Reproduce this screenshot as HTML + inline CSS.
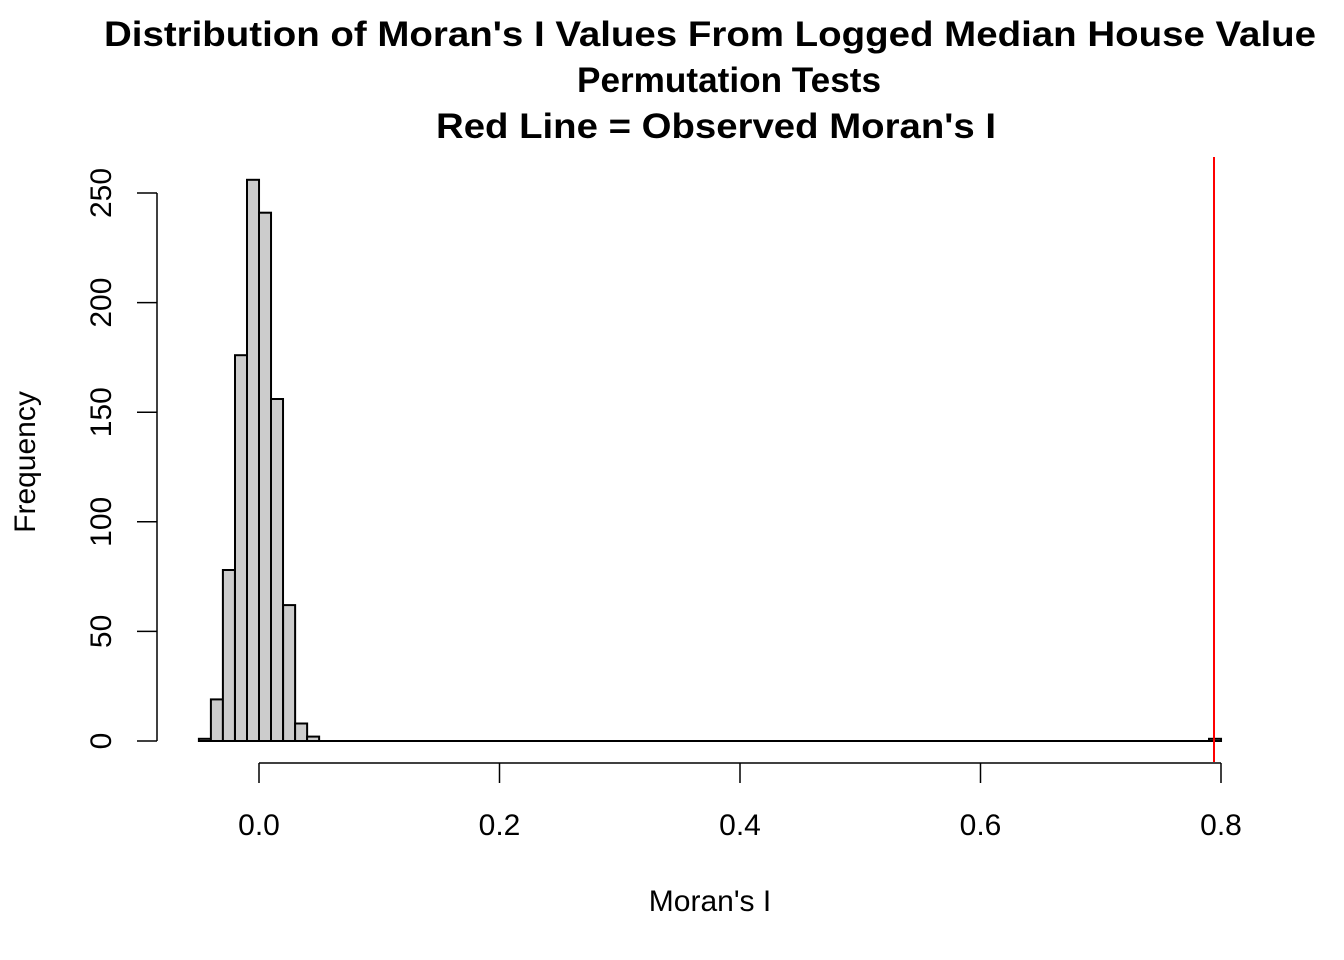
<!DOCTYPE html>
<html><head><meta charset="utf-8"><style>body{margin:0;background:#fff}svg{display:block}</style></head><body>
<svg width="1344" height="960" xmlns="http://www.w3.org/2000/svg" font-family="Liberation Sans, Arial, sans-serif">
<rect width="1344" height="960" fill="#fff"/>
<g font-weight="bold" font-size="35" fill="#000">
<text x="104" y="46" textLength="1212" lengthAdjust="spacingAndGlyphs">Distribution of Moran's I Values From Logged Median House Value</text>
<text x="577" y="92" textLength="304" lengthAdjust="spacingAndGlyphs">Permutation Tests</text>
<text x="436" y="138" textLength="560" lengthAdjust="spacingAndGlyphs">Red Line = Observed Moran's I</text>
</g>
<g fill="#cccccc" stroke="#000" stroke-width="2">
<rect x="198.9" y="738.8" width="12.03" height="2.2"/>
<rect x="210.9" y="699.4" width="12.03" height="41.6"/>
<rect x="222.9" y="570.0" width="12.03" height="171.0"/>
<rect x="235.0" y="355.2" width="12.03" height="385.8"/>
<rect x="247.0" y="179.8" width="12.03" height="561.2"/>
<rect x="259.0" y="212.7" width="12.03" height="528.3"/>
<rect x="271.0" y="399.0" width="12.03" height="342.0"/>
<rect x="283.1" y="605.1" width="12.03" height="135.9"/>
<rect x="295.1" y="723.5" width="12.03" height="17.5"/>
<rect x="307.1" y="736.6" width="12.03" height="4.4"/>
<rect x="1209" y="738.8" width="12.03" height="2.2"/>
</g>
<line x1="198" y1="741" x2="1222" y2="741" stroke="#000" stroke-width="2"/>
<line x1="1214" y1="157" x2="1214" y2="762" stroke="#ff0000" stroke-width="2"/>
<g stroke="#000" stroke-width="1.5" fill="none">
<line x1="259" y1="763" x2="1221" y2="763"/>
<line x1="259" y1="763" x2="259" y2="783"/>
<line x1="499.5" y1="763" x2="499.5" y2="783"/>
<line x1="740" y1="763" x2="740" y2="783"/>
<line x1="980.5" y1="763" x2="980.5" y2="783"/>
<line x1="1221" y1="763" x2="1221" y2="783"/>
<line x1="157" y1="193" x2="157" y2="741"/>
<line x1="137" y1="741" x2="157" y2="741"/>
<line x1="137" y1="631.4" x2="157" y2="631.4"/>
<line x1="137" y1="521.8" x2="157" y2="521.8"/>
<line x1="137" y1="412.2" x2="157" y2="412.2"/>
<line x1="137" y1="302.6" x2="157" y2="302.6"/>
<line x1="137" y1="193" x2="157" y2="193"/>
</g>
<g font-size="30" fill="#000" text-anchor="middle">
<text x="259" y="835">0.0</text>
<text x="499.5" y="835">0.2</text>
<text x="740" y="835">0.4</text>
<text x="980.5" y="835">0.6</text>
<text x="1221" y="835">0.8</text>
<text x="710" y="911">Moran's I</text>
<text transform="translate(111,741) rotate(-90)">0</text>
<text transform="translate(111,631.4) rotate(-90)">50</text>
<text transform="translate(111,521.8) rotate(-90)">100</text>
<text transform="translate(111,412.2) rotate(-90)">150</text>
<text transform="translate(111,302.6) rotate(-90)">200</text>
<text transform="translate(111,193) rotate(-90)">250</text>
<text transform="translate(35,462) rotate(-90)">Frequency</text>
</g>
</svg>
</body></html>
